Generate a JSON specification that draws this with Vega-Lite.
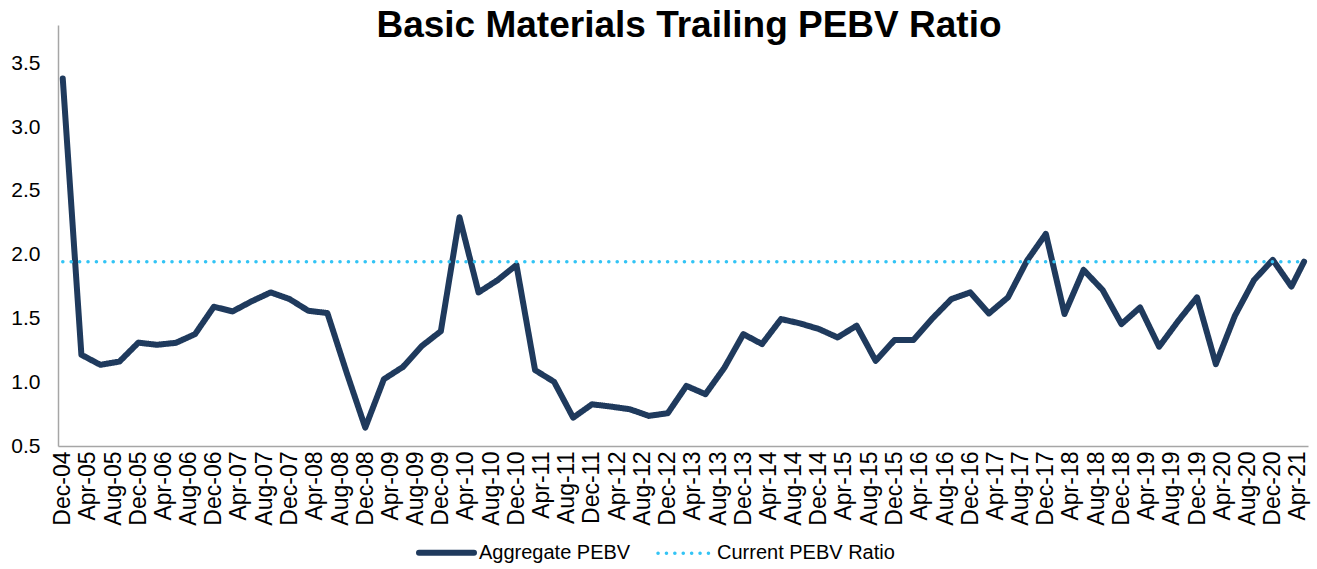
{
  "$schema": "https://vega.github.io/schema/vega-lite/v6.json",
  "width": 1250,
  "height": 421,
  "autosize": {"type": "none"},
  "padding": {"left": 58, "top": 25, "right": 9, "bottom": 123},
  "background": "white",
  "config": {"font": "Liberation Sans", "view": {"stroke": null}},
  "title": {
    "text": "Basic Materials Trailing PEBV Ratio",
    "fontSize": 37,
    "fontWeight": "bold",
    "font": "Liberation Sans",
    "color": "#000000",
    "anchor": "middle",
    "frame": "group",
    "dx": 6,
    "dy": 37,
    "offset": -12,
    "baseline": "alphabetic"
  },
  "data": {
    "values": [
      {"date": "2004-12-01", "pebv": 3.38, "current": 1.945},
      {"date": "2005-03-01", "pebv": 1.215, "current": 1.945},
      {"date": "2005-06-01", "pebv": 1.136, "current": 1.945},
      {"date": "2005-09-01", "pebv": 1.162, "current": 1.945},
      {"date": "2005-12-01", "pebv": 1.31, "current": 1.945},
      {"date": "2006-03-01", "pebv": 1.293, "current": 1.945},
      {"date": "2006-06-01", "pebv": 1.309, "current": 1.945},
      {"date": "2006-09-01", "pebv": 1.377, "current": 1.945},
      {"date": "2006-12-01", "pebv": 1.592, "current": 1.945},
      {"date": "2007-03-01", "pebv": 1.555, "current": 1.945},
      {"date": "2007-06-01", "pebv": 1.634, "current": 1.945},
      {"date": "2007-09-01", "pebv": 1.704, "current": 1.945},
      {"date": "2007-12-01", "pebv": 1.652, "current": 1.945},
      {"date": "2008-03-01", "pebv": 1.56, "current": 1.945},
      {"date": "2008-06-01", "pebv": 1.542, "current": 1.945},
      {"date": "2008-09-01", "pebv": 1.08, "current": 1.945},
      {"date": "2008-12-01", "pebv": 0.644, "current": 1.945},
      {"date": "2009-03-01", "pebv": 1.024, "current": 1.945},
      {"date": "2009-06-01", "pebv": 1.12, "current": 1.945},
      {"date": "2009-09-01", "pebv": 1.285, "current": 1.945},
      {"date": "2009-12-01", "pebv": 1.4, "current": 1.945},
      {"date": "2010-03-01", "pebv": 2.293, "current": 1.945},
      {"date": "2010-06-01", "pebv": 1.704, "current": 1.945},
      {"date": "2010-09-01", "pebv": 1.8, "current": 1.945},
      {"date": "2010-12-01", "pebv": 1.919, "current": 1.945},
      {"date": "2011-03-01", "pebv": 1.095, "current": 1.945},
      {"date": "2011-06-01", "pebv": 1.003, "current": 1.945},
      {"date": "2011-09-01", "pebv": 0.722, "current": 1.945},
      {"date": "2011-12-01", "pebv": 0.827, "current": 1.945},
      {"date": "2012-03-01", "pebv": 0.809, "current": 1.945},
      {"date": "2012-06-01", "pebv": 0.788, "current": 1.945},
      {"date": "2012-09-01", "pebv": 0.736, "current": 1.945},
      {"date": "2012-12-01", "pebv": 0.757, "current": 1.945},
      {"date": "2013-03-01", "pebv": 0.971, "current": 1.945},
      {"date": "2013-06-01", "pebv": 0.906, "current": 1.945},
      {"date": "2013-09-01", "pebv": 1.115, "current": 1.945},
      {"date": "2013-12-01", "pebv": 1.377, "current": 1.945},
      {"date": "2014-03-01", "pebv": 1.299, "current": 1.945},
      {"date": "2014-06-01", "pebv": 1.495, "current": 1.945},
      {"date": "2014-09-01", "pebv": 1.461, "current": 1.945},
      {"date": "2014-12-01", "pebv": 1.417, "current": 1.945},
      {"date": "2015-03-01", "pebv": 1.351, "current": 1.945},
      {"date": "2015-06-01", "pebv": 1.443, "current": 1.945},
      {"date": "2015-09-01", "pebv": 1.168, "current": 1.945},
      {"date": "2015-12-01", "pebv": 1.33, "current": 1.945},
      {"date": "2016-03-01", "pebv": 1.33, "current": 1.945},
      {"date": "2016-06-01", "pebv": 1.5, "current": 1.945},
      {"date": "2016-09-01", "pebv": 1.652, "current": 1.945},
      {"date": "2016-12-01", "pebv": 1.704, "current": 1.945},
      {"date": "2017-03-01", "pebv": 1.539, "current": 1.945},
      {"date": "2017-06-01", "pebv": 1.665, "current": 1.945},
      {"date": "2017-09-01", "pebv": 1.953, "current": 1.945},
      {"date": "2017-12-01", "pebv": 2.163, "current": 1.945},
      {"date": "2018-03-01", "pebv": 1.535, "current": 1.945},
      {"date": "2018-06-01", "pebv": 1.88, "current": 1.945},
      {"date": "2018-09-01", "pebv": 1.723, "current": 1.945},
      {"date": "2018-12-01", "pebv": 1.456, "current": 1.945},
      {"date": "2019-03-01", "pebv": 1.586, "current": 1.945},
      {"date": "2019-06-01", "pebv": 1.278, "current": 1.945},
      {"date": "2019-09-01", "pebv": 1.48, "current": 1.945},
      {"date": "2019-12-01", "pebv": 1.665, "current": 1.945},
      {"date": "2020-03-01", "pebv": 1.142, "current": 1.945},
      {"date": "2020-06-01", "pebv": 1.521, "current": 1.945},
      {"date": "2020-09-01", "pebv": 1.8, "current": 1.945},
      {"date": "2020-12-01", "pebv": 1.959, "current": 1.945},
      {"date": "2021-03-01", "pebv": 1.749, "current": 1.945},
      {"date": "2021-05-01", "pebv": 1.945, "current": 1.945}
    ]
  },
  "transform": [{"fold": ["pebv", "current"], "as": ["series", "value"]}],
  "mark": {"type": "line", "strokeCap": "round", "strokeJoin": "round"},
  "encoding": {
    "x": {
      "field": "date",
      "type": "temporal",
      "scale": {
        "type": "utc",
        "domain": [
          {"year": 2004, "month": 11, "date": 8, "utc": true},
          {"year": 2021, "month": 5, "date": 20, "utc": true}
        ]
      },
      "axis": {
        "title": null,
        "values": [
          {"year": 2004, "month": 12, "date": 1, "utc": true},
          {"year": 2005, "month": 4, "date": 1, "utc": true},
          {"year": 2005, "month": 8, "date": 1, "utc": true},
          {"year": 2005, "month": 12, "date": 1, "utc": true},
          {"year": 2006, "month": 4, "date": 1, "utc": true},
          {"year": 2006, "month": 8, "date": 1, "utc": true},
          {"year": 2006, "month": 12, "date": 1, "utc": true},
          {"year": 2007, "month": 4, "date": 1, "utc": true},
          {"year": 2007, "month": 8, "date": 1, "utc": true},
          {"year": 2007, "month": 12, "date": 1, "utc": true},
          {"year": 2008, "month": 4, "date": 1, "utc": true},
          {"year": 2008, "month": 8, "date": 1, "utc": true},
          {"year": 2008, "month": 12, "date": 1, "utc": true},
          {"year": 2009, "month": 4, "date": 1, "utc": true},
          {"year": 2009, "month": 8, "date": 1, "utc": true},
          {"year": 2009, "month": 12, "date": 1, "utc": true},
          {"year": 2010, "month": 4, "date": 1, "utc": true},
          {"year": 2010, "month": 8, "date": 1, "utc": true},
          {"year": 2010, "month": 12, "date": 1, "utc": true},
          {"year": 2011, "month": 4, "date": 1, "utc": true},
          {"year": 2011, "month": 8, "date": 1, "utc": true},
          {"year": 2011, "month": 12, "date": 1, "utc": true},
          {"year": 2012, "month": 4, "date": 1, "utc": true},
          {"year": 2012, "month": 8, "date": 1, "utc": true},
          {"year": 2012, "month": 12, "date": 1, "utc": true},
          {"year": 2013, "month": 4, "date": 1, "utc": true},
          {"year": 2013, "month": 8, "date": 1, "utc": true},
          {"year": 2013, "month": 12, "date": 1, "utc": true},
          {"year": 2014, "month": 4, "date": 1, "utc": true},
          {"year": 2014, "month": 8, "date": 1, "utc": true},
          {"year": 2014, "month": 12, "date": 1, "utc": true},
          {"year": 2015, "month": 4, "date": 1, "utc": true},
          {"year": 2015, "month": 8, "date": 1, "utc": true},
          {"year": 2015, "month": 12, "date": 1, "utc": true},
          {"year": 2016, "month": 4, "date": 1, "utc": true},
          {"year": 2016, "month": 8, "date": 1, "utc": true},
          {"year": 2016, "month": 12, "date": 1, "utc": true},
          {"year": 2017, "month": 4, "date": 1, "utc": true},
          {"year": 2017, "month": 8, "date": 1, "utc": true},
          {"year": 2017, "month": 12, "date": 1, "utc": true},
          {"year": 2018, "month": 4, "date": 1, "utc": true},
          {"year": 2018, "month": 8, "date": 1, "utc": true},
          {"year": 2018, "month": 12, "date": 1, "utc": true},
          {"year": 2019, "month": 4, "date": 1, "utc": true},
          {"year": 2019, "month": 8, "date": 1, "utc": true},
          {"year": 2019, "month": 12, "date": 1, "utc": true},
          {"year": 2020, "month": 4, "date": 1, "utc": true},
          {"year": 2020, "month": 8, "date": 1, "utc": true},
          {"year": 2020, "month": 12, "date": 1, "utc": true},
          {"year": 2021, "month": 4, "date": 1, "utc": true}
        ],
        "labelExpr": "utcFormat(datum.value, '%b-%y')",
        "labelAngle": -90,
        "labelAlign": "right",
        "labelBaseline": "middle",
        "labelPadding": 5,
        "labelOverlap": false,
        "labelFlush": false,
        "labelFontSize": 23,
        "labelColor": "#000000",
        "ticks": false,
        "grid": false,
        "domainColor": "#A6A6A6",
        "domainWidth": 1.5
      }
    },
    "y": {
      "field": "value",
      "type": "quantitative",
      "scale": {"domain": [0.5, 3.8], "nice": false, "zero": false},
      "axis": {
        "title": null,
        "values": [0.5, 1, 1.5, 2, 2.5, 3, 3.5],
        "format": ".1f",
        "ticks": false,
        "grid": false,
        "labelPadding": 18,
        "labelFontSize": 21,
        "labelColor": "#000000",
        "domainColor": "#A6A6A6",
        "domainWidth": 1.5
      }
    },
    "color": {
      "field": "series",
      "type": "nominal",
      "scale": {"domain": ["pebv", "current"], "range": ["#1F3A5D", "#33C4F5"]},
      "legend": {
        "title": null,
        "orient": "none",
        "legendX": 358,
        "legendY": 497,
        "direction": "horizontal",
        "symbolType": "stroke",
        "symbolSize": 3025,
        "labelFontSize": 20,
        "labelColor": "#000000",
        "labelLimit": 300,
        "labelOffset": 2,
        "columnPadding": 20,
        "labelExpr": "datum.value == 'pebv' ? 'Aggregate PEBV' : 'Current PEBV Ratio'",
        "encode": {
          "symbols": {
            "update": {
              "strokeWidth": {"signal": "datum.value == 'pebv' ? 6 : 3.5"},
              "strokeDash": {"signal": "datum.value == 'pebv' ? [1, 0] : [0.1, 7]"},
              "strokeCap": {"value": "round"}
            }
          }
        }
      }
    },
    "strokeDash": {
      "field": "series",
      "type": "nominal",
      "scale": {"domain": ["pebv", "current"], "range": [[1, 0], [0.1, 8.3]]},
      "legend": null
    },
    "strokeWidth": {
      "field": "series",
      "type": "nominal",
      "scale": {"domain": ["pebv", "current"], "range": [6, 3.5]},
      "legend": null
    }
  }
}
